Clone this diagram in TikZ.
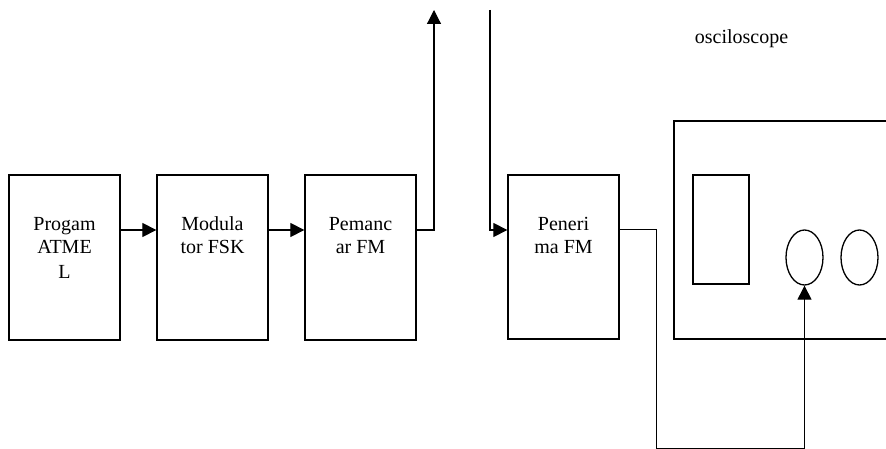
\documentclass[tikz,border=0pt]{standalone}
\usepackage{fontspec}
\setmainfont{Liberation Serif}
\usetikzlibrary{arrows.meta,shapes.geometric}
\newcommand{\toplines}[1]{\begin{tabular}[t]{@{}c@{}}#1\end{tabular}}
\begin{document}
\begin{tikzpicture}[x=1pt,y=-1pt,
  blk/.style={draw,line width=1.3pt,inner sep=0pt},
  lbl/.style={font=\fontsize{20}{24}\selectfont,anchor=base,inner sep=0pt},
  conn/.style={line width=1.2pt,-{Triangle[length=14pt,width=14pt]}},
  knob/.style={draw,line width=1.3pt,ellipse,minimum width=37pt,minimum height=55pt,inner sep=0pt}]
\useasboundingbox (0,0) rectangle (886,449);
% blocks
\node[blk,minimum width=111pt,minimum height=165pt] (b1) at (64.5,257.5) {};
\node[blk,minimum width=111pt,minimum height=165pt] (b2) at (212.5,257.5) {};
\node[blk,minimum width=111pt,minimum height=165pt] (b3) at (360.5,257.5) {};
\node[blk,minimum width=111pt,minimum height=164pt] (b4) at (563.5,257) {};
\node[lbl] (t1) at (64.5,230) {\toplines{Progam\\ATME\\L}};
\node[lbl] (t2) at (212.5,230) {\toplines{Modula\\tor FSK}};
\node[lbl] (t3) at (360.5,230) {\toplines{Pemanc\\ar FM}};
\node[lbl] (t4) at (563.5,230) {\toplines{Peneri\\ma FM}};
% oscilloscope
\coordinate (oTR) at (887,121);
\coordinate (oBR) at (887,339);
\draw[line width=1.3pt] (oTR) -- (674,121) -- (674,339) -- (oBR);
\node[blk,minimum width=56pt,minimum height=109pt] (scr) at (721,229.5) {};
\node[knob] (k1) at (804.5,257.5) {};
\node[knob] (k2) at (859.5,257.5) {};
\node[lbl] (osc) at (741.5,44) {osciloscope};
% connectors
\draw[conn] (b1.east |- 0,230) -- (b2.west |- 0,230);
\draw[conn] (b2.east |- 0,230) -- (b3.west |- 0,230);
\coordinate (up) at (434,10);
\draw[conn] (b3.east |- 0,230) -| (up);
\coordinate (down) at (490,10);
\draw[conn] (down) |- (b4.west |- 0,230);
\coordinate (c1) at (656,448);
\draw[conn,line width=1pt] (b4.east |- 0,230) -| (c1) -| (k1.south);
\end{tikzpicture}
\end{document}
